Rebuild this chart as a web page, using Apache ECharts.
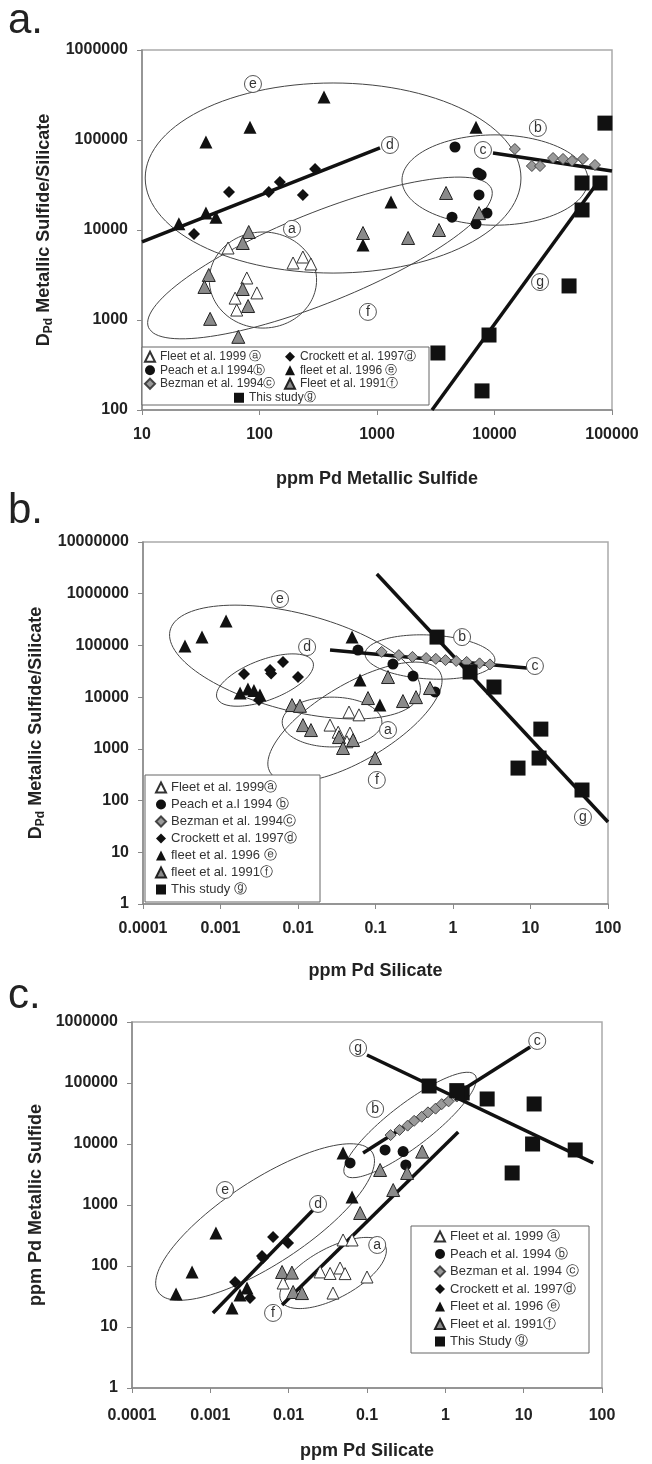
<!DOCTYPE html>
<html>
<head>
<meta charset="utf-8">
<title></title>
<style>
html,body{margin:0;padding:0;background:#fff;}
#box{width:652px;height:1464px;}
</style>
<script src="https://cdn.jsdelivr.net/npm/echarts@6/dist/echarts.min.js"></script>
</head>
<body>
<div id="box"></div>
<script>
// ---------- panel a : D(Pd) vs ppm Pd metallic sulfide ----------
var aFleet99 = [[54,6310],[193,4300],[234,5010],[274,4190],[78,2930],[95,2000],[62,1750],[64,1290]];
var aPeach = [[4610,83600],[7240,43000],[7700,41000],[7380,24500],[4350,13900],[8630,15400],[6960,11700]];
var aBezman = [[14900,79400],[20800,51400],[24400,51400],[31500,63100],[38300,61600],[45700,58700],[56600,61600],[71600,52800]];
var aCrockett = [[55,26400],[120,26400],[149,34100],[297,47600],[234,24500],[27.7,9030]];
var aFleet96 = [[20.6,11700],[35,15400],[42.6,13900],[35,95000],[83,139000],[354,300000],[6960,139000],[1316,20500],[760,6800]];
var aFleet91 = [[81,9500],[72,7170],[37,3160],[34,2330],[38,1030],[66,650],[72,2210],[80,1430],[760,9260],[3870,25800],[7380,15400],[3370,10000],[1840,8150]];
var aStudy = [[87100,154000],[55600,33300],[79000,33300],[55600,16700],[43100,2390],[8980,681],[7830,163],[3300,430]];
var aLineD = [[10,7360],[1060,81500]];
var aLineC = [[9710,71700],[100000,45300]];
var aLineG = [[2940,100],[76000,34100]];
// ellipses: centre, end of one half axis, end of the other
var aEllA = [[107,2780],[306,2780],[107,9500]];
var aEllE = [[423,37800],[16800,37800],[423,430000]];
var aEllB = [[10100,35900],[62500,35900],[10100,114000]];
var aEllF = [[327,4890],[9420,28800],[235,14200]];
var aTags = [['a',189,10300],['b',23400,136000],['c',7980,77400],['d',1290,88000],['e',88,419000],['f',837,1230],['g',24400,2640]];

// ---------- panel b : D(Pd) vs ppm Pd silicate ----------
var bFleet99 = [[0.0259,2880],[0.0455,5150],[0.0612,4550],[0.0468,2020],[0.033,2100],[0.0428,1370]];
var bPeach = [[0.0594,81500],[0.168,43700],[0.305,25600],[0.586,12600]];
var bBezman = [[0.12,75000],[0.2,65000],[0.3,60000],[0.45,57000],[0.6,55000],[0.8,52000],[1.1,50000],[1.5,48000],[2.2,45000],[3,43000]];
var bCrockett = [[0.00201,28000],[0.00436,33400],[0.0045,28500],[0.0064,47700],[0.01,24500],[0.00314,8800]];
var bFleet96 = [[0.000348,97300],[0.000577,145000],[0.00118,296000],[0.0498,145000],[0.00179,12000],[0.00226,14400],[0.0027,13400],[0.00323,11000],[0.0631,21400],[0.114,7030]];
var bFleet91 = [[0.08,9600],[0.00837,7030],[0.0106,6800],[0.0116,2880],[0.0147,2310],[0.0338,1690],[0.0513,1480],[0.0381,1040],[0.0986,664],[0.145,24500],[0.505,15000],[0.333,10000],[0.226,8400]];
var bStudy = [[0.622,145000],[1.66,30600],[3.38,15700],[13.6,2410],[12.9,664],[6.9,425],[46.2,160]];
var bLineG = [[0.104,2400000],[100,38.4]];
var bLineC = [[0.0259,81500],[9.0,36600]];
var bEllE = [[0.00914,47700],[0.375,17100],[0.00679,484000]];
var bEllD = [[0.00375,21400],[0.0156,47700],[0.00305,49900]];
var bEllB = [[0.505,59700],[3.48,52200],[0.505,159000]];
var bEllF = [[0.0543,3300],[0.679,30600],[0.0309,14400]];
var bEllA = [[0.0275,3300],[0.121,3300],[0.0275,10000]];
var bTags = [['a',0.145,2310],['b',1.31,145000],['c',11.4,40000],['d',0.0131,93000],['e',0.00586,789000],['f',0.104,250],['g',47.5,48]];

// ---------- panel c : ppm Pd metallic sulfide vs ppm Pd silicate ----------
var cFleet99 = [[0.00849,52.6],[0.0252,80],[0.0338,75.5],[0.0368,36],[0.0453,92.7],[0.0525,75],[0.0495,267],[0.0645,267],[0.1,66]];
var cPeach = [[0.17,7980],[0.289,7500],[0.313,4530],[0.0608,4890]];
var cBezman = [[0.2,14000],[0.26,17000],[0.33,20000],[0.4,24000],[0.5,28000],[0.6,33000],[0.75,38000],[0.9,45000],[1.1,50000],[1.4,60000]];
var cCrockett = [[0.00207,54.7],[0.00321,29.9],[0.00457,146],[0.0047,135],[0.00632,299],[0.00983,238]];
var cFleet96 = [[0.000365,34.8],[0.000584,79.8],[0.00118,347],[0.00189,20.5],[0.00239,33.5],[0.00294,43.6],[0.0645,1350],[0.0495,7120]];
var cFleet91 = [[0.00824,79.8],[0.011,78],[0.0114,37.5],[0.0148,36],[0.0817,739],[0.147,3750],[0.506,7500],[0.325,3350],[0.216,1760]];
var cStudy = [[0.621,89300],[1.64,68600],[1.4,75000],[3.42,54700],[13.6,45300],[13,10000],[45.5,7980],[7.13,3350]];
var cLineD = [[0.00108,17],[0.0205,828]];
var cLineF = [[0.00824,23],[1.46,15700]];
var cLineC = [[0.0891,7120],[12.1,389000]];
var cLineG = [[0.1,288000],[77.3,4890]];
var cEllE = [[0.005,526],[0.116,7390],[0.00254,1970]];
var cEllA = [[0.0369,76.8],[0.17,221],[0.026,176]];
var cEllB = [[0.355,20500],[2.4,135000],[0.242,38900]];
var cTags = [['a',0.135,221],['b',0.127,37500],['c',14.9,489000],['d',0.0237,1040],['e',0.00154,1760],['f',0.00632,17],['g',0.0769,375000]];

var aNames = ['Fleet et al. 1999 ⓐ','Peach et a.l 1994ⓑ','Bezman et al. 1994ⓒ','Crockett et al. 1997ⓓ','fleet et al. 1996 ⓔ','Fleet et al. 1991ⓕ','This studyⓖ'];
var bNames = ['Fleet et al. 1999ⓐ','Peach et a.l 1994 ⓑ','Bezman et al. 1994ⓒ ','Crockett et al. 1997ⓓ ','fleet et al. 1996 ⓔ','fleet et al. 1991ⓕ','This study ⓖ'];
var cNames = ['Fleet et al. 1999 ⓐ ','Peach et al. 1994 ⓑ','Bezman et al. 1994 ⓒ','Crockett et al. 1997ⓓ  ','Fleet et al. 1996 ⓔ','Fleet et al. 1991ⓕ ','This Study ⓖ'];

var FONT = '"Liberation Sans", Arial, sans-serif';
var marks = [
  {symbol:'triangle', symbolSize:12, itemStyle:{color:'#fff', borderColor:'#333', borderWidth:1, opacity:1}},
  {symbol:'circle', symbolSize:11, itemStyle:{color:'#111', opacity:1}},
  {symbol:'diamond', symbolSize:11, itemStyle:{color:'#9a9a9a', borderColor:'#444', borderWidth:1, opacity:1}},
  {symbol:'diamond', symbolSize:12, itemStyle:{color:'#111', opacity:1}},
  {symbol:'triangle', symbolSize:13, itemStyle:{color:'#111', opacity:1}},
  {symbol:'triangle', symbolSize:13, itemStyle:{color:'#8a8a8a', borderColor:'#222', borderWidth:1, opacity:1}},
  {symbol:'rect', symbolSize:15, itemStyle:{color:'#111', opacity:1}}
];

function ell(e) {
  var cx = Math.log10(e[0][0]), cy = Math.log10(e[0][1]);
  var ux = Math.log10(e[1][0]) - cx, uy = Math.log10(e[1][1]) - cy;
  var vx = Math.log10(e[2][0]) - cx, vy = Math.log10(e[2][1]) - cy;
  var pts = [];
  for (var i = 0; i <= 120; i++) {
    var t = i / 120 * 2 * Math.PI;
    pts.push([Math.pow(10, cx + ux*Math.cos(t) + vx*Math.sin(t)), Math.pow(10, cy + uy*Math.cos(t) + vy*Math.sin(t))]);
  }
  return pts;
}

var series = [];
function addPanel(k, sets, names, lines, ells, tags) {
  ells.forEach(function (e) {
    series.push({type:'line', xAxisIndex:k, yAxisIndex:k, data:ell(e), showSymbol:false, silent:true,
      lineStyle:{color:'#444', width:1}, z:1});
  });
  lines.forEach(function (l) {
    series.push({type:'line', xAxisIndex:k, yAxisIndex:k, data:l, showSymbol:false, silent:true,
      lineStyle:{color:'#111', width:3.5}, z:2});
  });
  sets.forEach(function (d, i) {
    series.push(Object.assign({type:'scatter', name:names[i], xAxisIndex:k, yAxisIndex:k, data:d, z:3}, marks[i]));
  });
  series.push({type:'scatter', xAxisIndex:k, yAxisIndex:k, silent:true, z:4,
    data:tags.map(function (t) { return {value:[t[1], t[2]], name:t[0]}; }),
    symbol:'circle', symbolSize:17, itemStyle:{color:'#fff', borderColor:'#555', borderWidth:1, opacity:1},
    label:{show:true, position:'inside', formatter:'{b}', color:'#333', fontSize:14, fontFamily:FONT}});
}
addPanel(0, [aFleet99,aPeach,aBezman,aCrockett,aFleet96,aFleet91,aStudy], aNames,
  [aLineD,aLineC,aLineG], [aEllA,aEllE,aEllB,aEllF], aTags);
addPanel(1, [bFleet99,bPeach,bBezman,bCrockett,bFleet96,bFleet91,bStudy], bNames,
  [bLineG,bLineC], [bEllE,bEllD,bEllB,bEllF,bEllA], bTags);
addPanel(2, [cFleet99,cPeach,cBezman,cCrockett,cFleet96,cFleet91,cStudy], cNames,
  [cLineD,cLineF,cLineC,cLineG], [cEllE,cEllA,cEllB], cTags);

function fmt(v) { return String(Number(v.toPrecision(3))); }
function axis(min, max, split, name, gap, margin) {
  return {
    type:'log', logBase:10, min:min, max:max, splitNumber:split, gridIndex:0,
    name:name, nameLocation:'middle', nameGap:gap,
    nameTextStyle:{fontFamily:FONT, fontWeight:'bold', fontSize:18, color:'#222',
      rich:{s:{fontFamily:FONT, fontWeight:'bold', fontSize:12, color:'#222', verticalAlign:'bottom', padding:[9,0,0,0]}}},
    axisLine:{show:true, lineStyle:{color:'#888', width:1.5}},
    axisTick:{show:true, length:5, lineStyle:{color:'#888'}},
    minorTick:{show:false}, splitLine:{show:false},
    axisLabel:{formatter:fmt, fontFamily:FONT, fontWeight:'bold', fontSize:16, color:'#222', margin:margin}
  };
}
var xAxes = [axis(10, 100000, 4, 'ppm Pd Metallic Sulfide', 60, 17),
             axis(0.0001, 100, 6, 'ppm Pd Silicate', 58, 17),
             axis(0.0001, 100, 6, 'ppm Pd Silicate', 54, 20)];
var yAxes = [axis(100, 1000000, 4, 'D{s|Pd} Metallic Sulfide/Silicate', 82, 14),
             axis(1, 10000000, 7, 'D{s|Pd} Metallic Sulfide/Silicate', 90, 14),
             axis(1, 1000000, 6, 'ppm Pd Metallic Sulfide', 80, 14)];
xAxes.forEach(function (a, i) { a.gridIndex = i; });
yAxes.forEach(function (a, i) { a.gridIndex = i; });

function leg(names, left, top, gap, lh, fs) {
  return {data:names, orient:'vertical', left:left, top:top, itemGap:gap, itemWidth:10, itemHeight:10,
    selectedMode:false, padding:0, z:60,
    textStyle:{fontFamily:FONT, fontSize:fs, color:'#333', lineHeight:lh}};
}

var option = {
  animation:false,
  grid:[
    {left:142, top:50, width:470, height:360, show:true, borderColor:'#aaa', borderWidth:1.5},
    {left:143, top:542, width:465, height:362, show:true, borderColor:'#aaa', borderWidth:1.5},
    {left:132, top:1022, width:470, height:366, show:true, borderColor:'#aaa', borderWidth:1.5}
  ],
  xAxis:xAxes, yAxis:yAxes,
  legend:[
    leg(aNames.slice(0,3), 144, 350, 0, 13.5, 12),
    leg(aNames.slice(3,6), 284, 350, 0, 13.5, 12),
    leg(aNames.slice(6), 234, 391, 0, 13.5, 12),
    leg(bNames, 155, 780, 2, 15, 13),
    leg(cNames, 434, 1229, 2.5, 15, 13)
  ],
  graphic:[
    {type:'rect', shape:{x:142, y:347, width:287, height:58}, style:{fill:'#fff', stroke:'#666', lineWidth:1}, z:50},
    {type:'rect', shape:{x:145, y:775, width:175, height:127}, style:{fill:'#fff', stroke:'#666', lineWidth:1}, z:50},
    {type:'rect', shape:{x:411, y:1226, width:178, height:127}, style:{fill:'#fff', stroke:'#666', lineWidth:1}, z:50},
    {type:'text', left:8, top:0, style:{text:'a.', font:'42px ' + FONT, fill:'#222'}, z:50},
    {type:'text', left:8, top:490, style:{text:'b.', font:'42px ' + FONT, fill:'#222'}, z:50},
    {type:'text', left:8, top:975, style:{text:'c.', font:'42px ' + FONT, fill:'#222'}, z:50}
  ],
  series:series
};
var chart = echarts.init(document.getElementById('box'));
chart.setOption(option);
</script>
</body>
</html>
